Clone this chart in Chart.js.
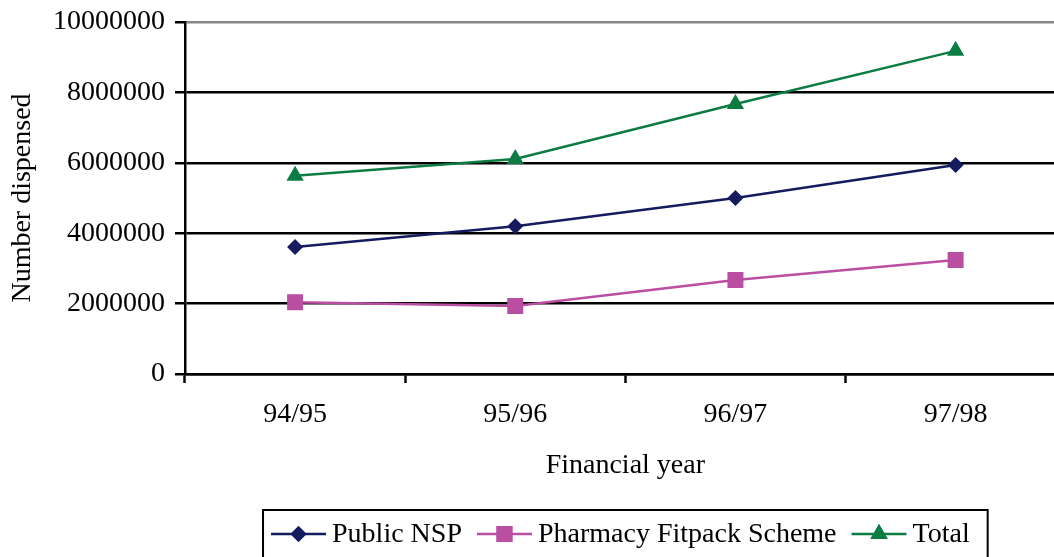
<!DOCTYPE html>
<html>
<head>
<meta charset="utf-8">
<script src="https://cdn.jsdelivr.net/npm/chart.js@4.4.0/dist/chart.umd.min.js"></script>
<style>
html, body { margin: 0; padding: 0; overflow: hidden; background: #fff; }
#wrap { width: 1077px; height: 557px; }
canvas { display: block; }
</style>
</head>
<body>
<div id="wrap"><canvas id="fitpackChart" width="1077" height="557"></canvas></div>
<script>
const years = ['94/95', '95/96', '96/97', '97/98'];
const publicNsp = [3610000, 4200000, 5000000, 5940000];
const pharmacyFitpack = [2040000, 1930000, 2670000, 3240000];
const totalDispensed = [5630000, 6110000, 7670000, 9180000];
const yMax = 10000000;
const yStep = 2000000;

const serif = '"Liberation Serif", "Times New Roman", serif';

// legend drawn inside a black box under the plot, line + marker + label
const boxLegend = {
    id: 'boxLegend',
    afterDraw(chart) {
        const ctx = chart.ctx;
        const area = chart.chartArea;
        ctx.save();
        ctx.font = '28px ' + serif;
        const lineLen = 55, textGap = 6, itemGap = 15, padL = 8, padR = 18, top = 510, midY = 534;
        const items = chart.data.datasets.map(ds => ({ ds, w: ctx.measureText(ds.label).width }));
        const inner = items.reduce((s, it) => s + lineLen + textGap + it.w, 0) + itemGap * (items.length - 1);
        const boxW = inner + padL + padR;
        const left = (area.left + area.right) / 2 - boxW / 2;
        ctx.lineWidth = 2;
        ctx.strokeStyle = '#000';
        ctx.strokeRect(left, top, boxW, 80);
        let x = left + padL;
        items.forEach(it => {
            const ds = it.ds;
            ctx.strokeStyle = ds.borderColor;
            ctx.lineWidth = 2.5;
            ctx.beginPath();
            ctx.moveTo(x, midY);
            ctx.lineTo(x + lineLen, midY);
            ctx.stroke();
            ctx.fillStyle = ds.pointBackgroundColor;
            Chart.helpers.drawPoint(ctx, { pointStyle: ds.pointStyle, radius: ds.pointRadius, rotation: 0, borderWidth: 0 }, x + lineLen / 2, midY);
            ctx.fill();
            ctx.fillStyle = '#000';
            ctx.textBaseline = 'middle';
            ctx.textAlign = 'left';
            ctx.fillText(ds.label, x + lineLen + textGap, midY + 1);
            x += lineLen + textGap + it.w + itemGap;
        });
        ctx.restore();
    }
};

new Chart(document.getElementById('fitpackChart'), {
    type: 'line',
    data: {
        labels: years,
        datasets: [
            {
                label: 'Public NSP', data: publicNsp,
                borderColor: '#141b5f', backgroundColor: '#141b5f', pointBackgroundColor: '#141b5f',
                pointStyle: 'rectRot', pointRadius: 8, pointBorderWidth: 0, borderWidth: 2.5, tension: 0
            },
            {
                label: 'Pharmacy Fitpack Scheme', data: pharmacyFitpack,
                borderColor: '#ba4ea0', backgroundColor: '#ba4ea0', pointBackgroundColor: '#ba4ea0',
                pointStyle: 'rect', pointRadius: 11.3, pointBorderWidth: 0, borderWidth: 2.5, tension: 0
            },
            {
                label: 'Total', data: totalDispensed,
                borderColor: '#0b7c42', backgroundColor: '#0b7c42', pointBackgroundColor: '#0b7c42',
                pointStyle: 'triangle', pointRadius: 10, pointBorderWidth: 0, borderWidth: 2.5, tension: 0
            }
        ]
    },
    options: {
        responsive: false,
        animation: false,
        // canvas is wider than the window: the plot runs past the right edge of the picture
        layout: { padding: { top: 22, right: 0, bottom: 63, left: 0 } },
        plugins: {
            legend: { display: false },
            tooltip: { enabled: false }
        },
        scales: {
            x: {
                offset: true,
                grid: { offset: true, drawOnChartArea: false, drawTicks: true, tickLength: 9, tickColor: '#000', tickWidth: 2.5 },
                border: { color: '#000', width: 2.5 },
                ticks: { color: '#000', font: { family: serif, size: 28 }, padding: 15 },
                title: { display: true, text: 'Financial year', color: '#000', font: { family: serif, size: 28 }, padding: { top: 0, bottom: 12 } },
                afterFit: s => { s.height = 120; }
            },
            y: {
                min: 0, max: yMax,
                grid: {
                    color: ctx => ctx.tick && ctx.tick.value === yMax ? '#888' : '#000',
                    lineWidth: 2.5, tickLength: 10, tickColor: '#000', tickWidth: 2.5
                },
                border: { color: '#000', width: 2.5 },
                ticks: { stepSize: yStep, color: '#000', font: { family: serif, size: 28, lineHeight: 0.8 }, padding: 10, callback: v => String(v) },
                title: { display: true, text: 'Number dispensed', color: '#000', font: { family: serif, size: 28 }, padding: { top: 6, bottom: 0 } },
                afterFit: s => { s.width = 185; }
            }
        }
    },
    plugins: [boxLegend]
});
</script>
</body>
</html>
